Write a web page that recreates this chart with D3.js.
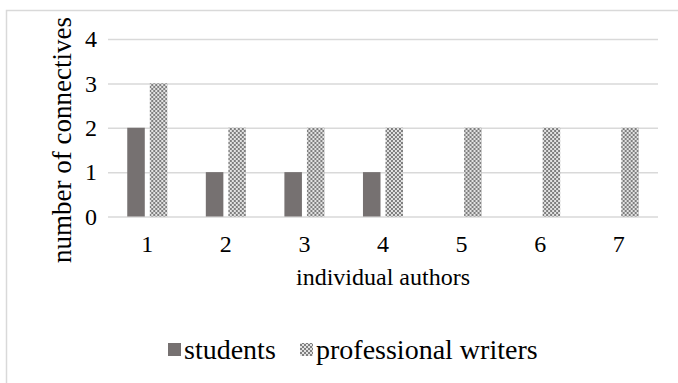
<!DOCTYPE html>
<html>
<head>
<meta charset="utf-8">
<script src="https://cdn.jsdelivr.net/npm/d3@7"></script>
<style>
  html, body { margin: 0; padding: 0; background: #fff; }
  svg { display: block; }
</style>
</head>
<body>
<svg id="chart" width="678" height="383"></svg>
<script>
// Number of connectives used by each individual author
const authors = ["1", "2", "3", "4", "5", "6", "7"];
const seriesNames = ["students", "professional writers"];
const students = [2, 1, 1, 1, 0, 0, 0];
const professionals = [3, 2, 2, 2, 2, 2, 2];
const yTicks = [0, 1, 2, 3, 4];

const W = 678, H = 383;
const plot = { left: 108, right: 658, top: 39, bottom: 216.5 };
const serif = "Liberation Serif";

const svg = d3.select("#chart");

// checkered fill for the professional writers series
const defs = svg.append("defs");
const pat = defs.append("pattern")
  .attr("id", "checks")
  .attr("patternUnits", "userSpaceOnUse")
  .attr("width", 4).attr("height", 4);
pat.append("rect").attr("width", 4).attr("height", 4).attr("fill", "#e2e2e2");
pat.append("rect").attr("x", 0).attr("y", 0).attr("width", 2).attr("height", 2).attr("fill", "#7f7f7f");
pat.append("rect").attr("x", 2).attr("y", 2).attr("width", 2).attr("height", 2).attr("fill", "#7f7f7f");

// chart frame
svg.append("rect")
  .attr("x", 6.5).attr("y", 10.5)
  .attr("width", W + 20).attr("height", H + 20)
  .attr("fill", "#fff")
  .attr("stroke", "#d9d9d9").attr("stroke-width", 1.5);

const x0 = d3.scaleBand()
  .domain(authors)
  .range([plot.left, plot.right])
  .paddingInner(0.49)
  .paddingOuter(0.245);

const x1 = d3.scaleBand()
  .domain(seriesNames)
  .range([0, x0.bandwidth()])
  .paddingInner(0.222)
  .paddingOuter(0);

const y = d3.scaleLinear()
  .domain([0, 4])
  .range([plot.bottom, plot.top]);

// gridlines and value labels
const yAxis = d3.axisLeft(y).tickValues(yTicks).tickSize(-(plot.right - plot.left)).tickPadding(11).tickFormat(d3.format("d"));
const gy = svg.append("g").attr("transform", `translate(${plot.left},0)`).call(yAxis);
gy.select(".domain").remove();
gy.selectAll(".tick line").attr("stroke", "#d9d9d9").attr("stroke-width", 1.5);
gy.selectAll(".tick text")
  .style("font-family", serif)
  .style("font-size", "24px")
  .attr("fill", "#000");

// bars
const fills = { "students": "#767171", "professional writers": "url(#checks)" };
const rows = authors.map((a, i) => ({ author: a, values: [
  { key: "students", value: students[i] },
  { key: "professional writers", value: professionals[i] }
]}));

const groups = svg.append("g").selectAll("g")
  .data(rows).join("g")
  .attr("transform", d => `translate(${x0(d.author)},0)`);

groups.selectAll("rect")
  .data(d => d.values.filter(v => v.value > 0))
  .join("rect")
  .attr("x", d => x1(d.key))
  .attr("width", x1.bandwidth())
  .attr("y", d => y(d.value))
  .attr("height", d => y(0) - y(d.value))
  .attr("fill", d => fills[d.key]);

// category axis labels
const xAxis = d3.axisBottom(x0).tickSize(0).tickPadding(18);
const gx = svg.append("g").attr("transform", `translate(0,${plot.bottom})`).call(xAxis);
gx.select(".domain").remove();
gx.selectAll(".tick text")
  .style("font-family", serif)
  .style("font-size", "24px")
  .attr("fill", "#000");

// axis titles
svg.append("text")
  .attr("x", (plot.left + plot.right) / 2)
  .attr("y", 285)
  .attr("text-anchor", "middle")
  .style("font-family", serif)
  .style("font-size", "24px")
  .text("individual authors");

svg.append("text")
  .attr("transform", `translate(71,140) rotate(-90)`)
  .attr("text-anchor", "middle")
  .style("font-family", serif)
  .style("font-size", "27px")
  .text("number of connectives");

// legend
const legend = svg.append("g");
const legendItems = [
  { key: "students", x: 168 },
  { key: "professional writers", x: 300 }
];
legendItems.forEach(it => {
  legend.append("rect")
    .attr("x", it.x).attr("y", 343)
    .attr("width", 13).attr("height", 13)
    .attr("fill", fills[it.key]);
  legend.append("text")
    .attr("x", it.x + 16).attr("y", 359)
    .style("font-family", serif)
    .style("font-size", "28px")
    .text(it.key);
});
</script>
</body>
</html>
